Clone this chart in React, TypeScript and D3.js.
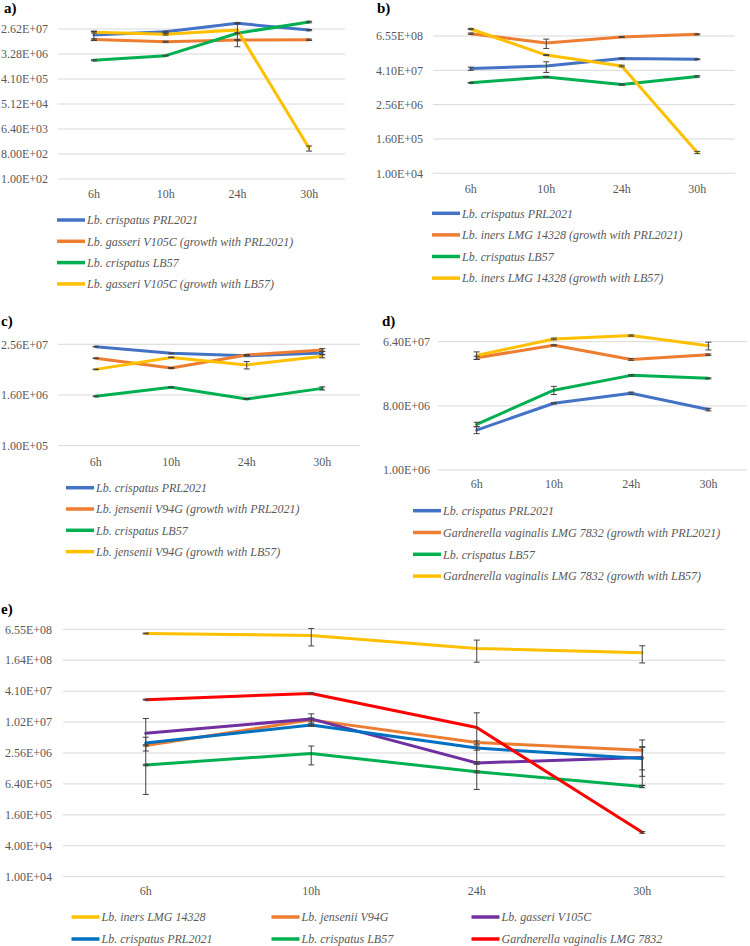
import React from "react";
import * as d3 from "d3";

// ---------- categories ----------
const times = ["6h", "10h", "24h", "30h"];

// ---------- panel a (log base 8 axis) ----------
const aTicks = [1e2, 8e2, 6.4e3, 5.12e4, 4.096e5, 3.2768e6, 2.62144e7];
const aNames = [
  "Lb. crispatus PRL2021",
  "Lb. gasseri V105C (growth with PRL2021)",
  "Lb. crispatus LB57",
  "Lb. gasseri V105C (growth with LB57)",
];
const aBlue = [1.6e7, 2.1e7, 4.2e7, 2.4e7];
const aBlueErr = [6e6, 1e6, 2e6, 1.2e6];
const aOrange = [1.1e7, 9.1e6, 1.05e7, 1.07e7];
const aOrangeErr = [6e5, 4e5, 5e5, 6e5];
const aGreen = [1.94e6, 2.86e6, 1.84e7, 4.7e7];
const aGreenErr = [8e4, 1e5, 8e5, 3e6];
const aYellow = [2.0e7, 1.7e7, 2.4e7, 1290];
const aYellowErr = [1.2e6, 1.2e6, 1.8e7, 270];

// ---------- panel b (log base 16 axis) ----------
const bTicks = [1e4, 1.6e5, 2.56e6, 4.096e7, 6.5536e8];
const bNames = [
  "Lb. crispatus PRL2021",
  "Lb. iners LMG 14328 (growth with PRL2021)",
  "Lb. crispatus LB57",
  "Lb. iners LMG 14328 (growth with LB57)",
];
const bBlue = [4.7e7, 5.8e7, 1.06e8, 1.0e8];
const bBlueErr = [6e6, 2.35e7, 4e6, 4e6];
const bOrange = [7.9e8, 3.75e8, 6.0e8, 7.5e8];
const bOrangeErr = [4e7, 1.35e8, 2e7, 3e7];
const bGreen = [1.5e7, 2.4e7, 1.3e7, 2.5e7];
const bGreenErr = [5e5, 5e5, 5e5, 1.5e6];
const bYellow = [1.15e9, 1.4e8, 5.8e7, 5.4e4];
const bYellowErr = [6e7, 5e6, 4e6, 5e3];

// ---------- panel c (log base 16 axis) ----------
const cTicks = [1e5, 1.6e6, 2.56e7];
const cNames = [
  "Lb. crispatus PRL2021",
  "Lb. jensenii V94G (growth with PRL2021)",
  "Lb. crispatus LB57",
  "Lb. jensenii V94G (growth with LB57)",
];
const cBlue = [2.25e7, 1.56e7, 1.37e7, 1.6e7];
const cBlueErr = [3e5, 3e5, 3e5, 1.5e6];
const cOrange = [1.19e7, 7e6, 1.43e7, 1.87e7];
const cOrangeErr = [2e5, 2e5, 3e5, 1.5e6];
const cGreen = [1.49e6, 2.44e6, 1.29e6, 2.3e6];
const cGreenErr = [3e4, 3e4, 3e4, 2e5];
const cYellow = [6.5e6, 1.25e7, 8.3e6, 1.34e7];
const cYellowErr = [1e5, 2e5, 1.65e6, 1.2e6];

// ---------- panel d (log base 8 axis) ----------
const dTicks = [1e6, 8e6, 6.4e7];
const dNames = [
  "Lb. crispatus PRL2021",
  "Gardnerella vaginalis LMG 7832 (growth with PRL2021)",
  "Lb. crispatus LB57",
  "Gardnerella vaginalis LMG 7832 (growth with LB57)",
];
const dBlue = [3.65e6, 8.7e6, 1.2e7, 7.1e6];
const dBlueErr = [4e5, 2e5, 5e5, 3e5];
const dOrange = [3.8e7, 5.7e7, 3.6e7, 4.2e7];
const dOrangeErr = [2e6, 1e6, 1e6, 1e6];
const dGreen = [4.4e6, 1.33e7, 2.15e7, 1.95e7];
const dGreenErr = [3e5, 1.75e6, 5e5, 3e5];
const dYellow = [4.1e7, 7e7, 7.8e7, 5.6e7];
const dYellowErr = [5e6, 2e6, 1.5e6, 7e6];

// ---------- panel e (log base 4 axis) ----------
const eTicks = [1e4, 4e4, 1.6e5, 6.4e5, 2.56e6, 1.024e7, 4.096e7, 1.6384e8, 6.5536e8];
const eNames = [
  "Lb. iners LMG 14328",
  "Lb. jensenii V94G",
  "Lb. gasseri V105C",
  "Lb. crispatus PRL2021",
  "Lb. crispatus LB57",
  "Gardnerella vaginalis LMG 7832",
];
const eIners = [5.43e8, 4.96e8, 2.77e8, 2.29e8];
const eInersErr = [1e7, 1.85e8, 1.27e8, 8.4e7];
const eJensenii = [3.6e6, 1.13e7, 4.1e6, 2.9e6];
const eJenseniiErr = [1e5, 1e6, 3e5, 1.7e6];
const eGasseri = [6.2e6, 1.18e7, 1.64e6, 2.1e6];
const eGasseriErr = [5.8e6, 3e6, 1e5, 1.2e6];
const eCrispatus = [4.0e6, 9.0e6, 3.2e6, 2.0e6];
const eCrispatusErr = [1.2e6, 5e5, 3e5, 1.4e6];
const eLB57 = [1.5e6, 2.5e6, 1.1e6, 5.7e5];
const eLB57Err = [5e4, 1e6, 5e4, 3e4];
const eGard = [2.8e7, 3.7e7, 8e6, 7.3e4];
const eGardErr = [5e5, 8e5, 7.5e6, 3e3];

// ---------- colours ----------
const C_BLUE = "#4472C4";
const C_ORANGE = "#ED7D31";
const C_GREEN = "#00B050";
const C_YELLOW = "#FFC000";
const C_PURPLE = "#7030A0";
const C_BLUE2 = "#0070C0";
const C_RED = "#FF0000";

const FONT = "Liberation Serif, Times New Roman, DejaVu Serif, serif";
const GRAY = "#595959";

type Series = { name: string; color: string; values: number[]; err: number[] };

const fmt = (v: number) => {
  const [m, e] = v.toExponential(2).split("e");
  const n = parseInt(e, 10);
  return `${m}E${n < 0 ? "-" : "+"}${String(Math.abs(n)).padStart(2, "0")}`;
};

type PanelCfg = {
  title: string;
  titleX: number;
  titleY: number;
  x0: number;
  x1: number;
  yTop: number;
  yBot: number;
  labelX: number;
  xLabelY: number;
  ticks: number[];
  series: Series[];
  legend: { x: number; y: number; w: number; colDx: number; rowDy: number; cols: number };
};

function Panel({ p }: { p: PanelCfg }) {
  const x = d3.scaleBand<string>().domain(times).range([p.x0, p.x1]);
  const y = d3
    .scaleLog()
    .domain([p.ticks[0], p.ticks[p.ticks.length - 1]])
    .range([p.yBot, p.yTop]);
  const cx = (t: string) => (x(t) as number) + x.bandwidth() / 2;
  const line = d3
    .line<number>()
    .x((_, i) => cx(times[i]))
    .y((d) => y(d));
  const minV = p.ticks[0] * 0.5;
  return (
    <g>
      <text x={p.titleX} y={p.titleY} fontWeight="bold" fontSize={15} style={{ fontFamily: FONT }} fill="#000">
        {p.title}
      </text>
      {p.ticks.map((t) => (
        <g key={t}>
          <line x1={p.x0} x2={p.x1} y1={y(t)} y2={y(t)} stroke="#D9D9D9" strokeWidth={1} />
          <text
            x={p.labelX}
            y={y(t)}
            dy="0.35em"
            textAnchor="end"
            fill={GRAY}
            fontSize={12}
            style={{ fontFamily: FONT }}
          >
            {fmt(t)}
          </text>
        </g>
      ))}
      {times.map((t) => (
        <text
          key={t}
          x={cx(t)}
          y={p.xLabelY}
          textAnchor="middle"
          fill={GRAY}
          fontSize={12}
          style={{ fontFamily: FONT }}
        >
          {t}
        </text>
      ))}
      {p.series.map((s) => (
        <path
          key={s.name}
          d={line(s.values) as string}
          fill="none"
          stroke={s.color}
          strokeWidth={3}
          strokeLinejoin="round"
          strokeLinecap="round"
        />
      ))}
      {p.series.map((s) =>
        s.values.map((v, i) => {
          const hi = y(v + s.err[i]);
          const lo = y(Math.max(v - s.err[i], minV));
          const xx = cx(times[i]);
          return (
            <g key={s.name + i} stroke="#404040" strokeWidth={1}>
              <line x1={xx} x2={xx} y1={hi} y2={lo} />
              <line x1={xx - 3} x2={xx + 3} y1={hi} y2={hi} />
              <line x1={xx - 3} x2={xx + 3} y1={lo} y2={lo} />
            </g>
          );
        })
      )}
      {p.series.map((s, i) => {
        const col = i % p.legend.cols;
        const row = Math.floor(i / p.legend.cols);
        const lx = p.legend.x + col * p.legend.colDx;
        const ly = p.legend.y + row * p.legend.rowDy;
        return (
          <g key={"lg" + s.name}>
            <line x1={lx} x2={lx + p.legend.w} y1={ly} y2={ly} stroke={s.color} strokeWidth={3.5} />
            <text
              x={lx + p.legend.w + 2}
              y={ly}
              dy="0.35em"
              fontStyle="italic"
              fill={GRAY}
              fontSize={12}
              style={{ fontFamily: FONT }}
            >
              {s.name}
            </text>
          </g>
        );
      })}
    </g>
  );
}

const mk4 = (names: string[], vals: number[][], errs: number[][]): Series[] => {
  const cols = [C_BLUE, C_ORANGE, C_GREEN, C_YELLOW];
  return names.map((n, i) => ({ name: n, color: cols[i], values: vals[i], err: errs[i] }));
};

export default function App() {
  const panels: PanelCfg[] = [
    {
      title: "a)",
      titleX: 4,
      titleY: 13,
      x0: 58,
      x1: 345,
      yTop: 29,
      yBot: 179,
      labelX: 48,
      xLabelY: 198,
      ticks: aTicks,
      series: mk4(aNames, [aBlue, aOrange, aGreen, aYellow], [aBlueErr, aOrangeErr, aGreenErr, aYellowErr]),
      legend: { x: 57, y: 220, w: 28, colDx: 0, rowDy: 21.3, cols: 1 },
    },
    {
      title: "b)",
      titleX: 377,
      titleY: 13,
      x0: 433,
      x1: 735,
      yTop: 36,
      yBot: 173.3,
      labelX: 423,
      xLabelY: 192.5,
      ticks: bTicks,
      series: mk4(bNames, [bBlue, bOrange, bGreen, bYellow], [bBlueErr, bOrangeErr, bGreenErr, bYellowErr]),
      legend: { x: 432, y: 213.3, w: 28, colDx: 0, rowDy: 21.6, cols: 1 },
    },
    {
      title: "c)",
      titleX: 1,
      titleY: 326,
      x0: 58,
      x1: 360,
      yTop: 344.3,
      yBot: 445.7,
      labelX: 48,
      xLabelY: 466,
      ticks: cTicks,
      series: mk4(cNames, [cBlue, cOrange, cGreen, cYellow], [cBlueErr, cOrangeErr, cGreenErr, cYellowErr]),
      legend: { x: 66, y: 487.7, w: 28, colDx: 0, rowDy: 21.3, cols: 1 },
    },
    {
      title: "d)",
      titleX: 382,
      titleY: 326,
      x0: 438,
      x1: 747,
      yTop: 341.7,
      yBot: 470,
      labelX: 430,
      xLabelY: 488,
      ticks: dTicks,
      series: mk4(dNames, [dBlue, dOrange, dGreen, dYellow], [dBlueErr, dOrangeErr, dGreenErr, dYellowErr]),
      legend: { x: 413, y: 510.7, w: 28, colDx: 0, rowDy: 21.8, cols: 1 },
    },
    {
      title: "e)",
      titleX: 1,
      titleY: 614,
      x0: 63,
      x1: 725,
      yTop: 629.3,
      yBot: 876.7,
      labelX: 52,
      xLabelY: 895,
      ticks: eTicks,
      series: [
        { name: eNames[0], color: C_YELLOW, values: eIners, err: eInersErr },
        { name: eNames[1], color: C_ORANGE, values: eJensenii, err: eJenseniiErr },
        { name: eNames[2], color: C_PURPLE, values: eGasseri, err: eGasseriErr },
        { name: eNames[3], color: C_BLUE2, values: eCrispatus, err: eCrispatusErr },
        { name: eNames[4], color: C_GREEN, values: eLB57, err: eLB57Err },
        { name: eNames[5], color: C_RED, values: eGard, err: eGardErr },
      ],
      legend: { x: 71.5, y: 917, w: 28, colDx: 200, rowDy: 22, cols: 3 },
    },
  ];
  return (
    <svg
      width={750}
      height={946}
      viewBox="0 0 750 946"
      style={{ position: "absolute", left: 0, top: 0, background: "#fff", fontFamily: FONT }}
    >
      <rect width={750} height={946} fill="#fff" />
      {panels.map((p) => (
        <Panel key={p.title} p={p} />
      ))}
    </svg>
  );
}
